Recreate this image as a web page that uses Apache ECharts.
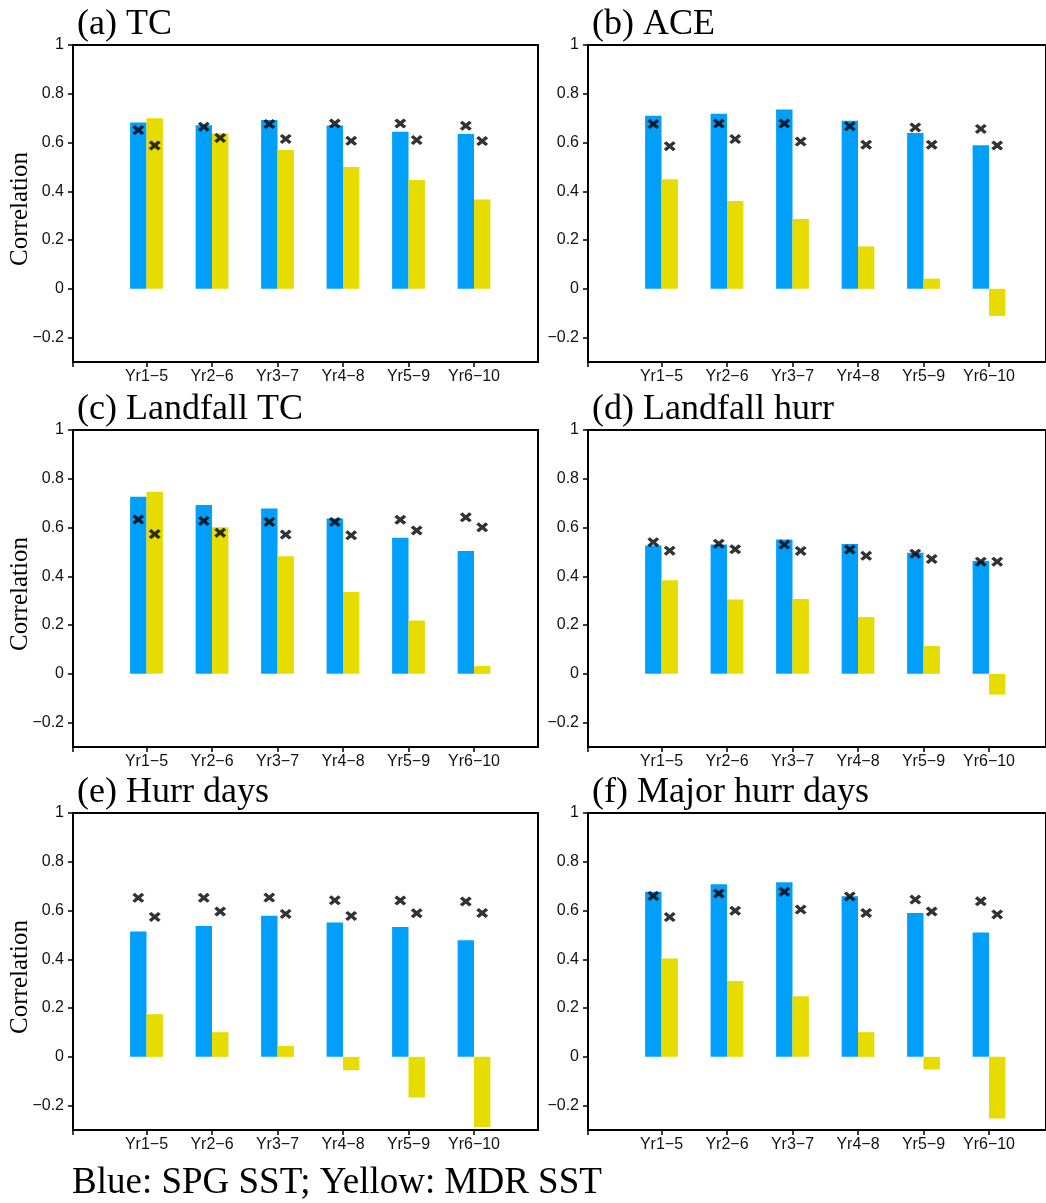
<!DOCTYPE html>
<html>
<head>
<meta charset="utf-8">
<script src="https://cdn.jsdelivr.net/npm/echarts@6.0.0/dist/echarts.min.js"></script>
<style>
  html, body { margin: 0; padding: 0; background: #fff; }
  #chart { width: 1046px; height: 1203px; }
</style>
</head>
<body>
<div id="chart"></div>
<script>
// ---- data ----
const categories = ['Yr1\u22125', 'Yr2\u22126', 'Yr3\u22127', 'Yr4\u22128', 'Yr5\u22129', 'Yr6\u221210'];
const yTicks = [-0.2, 0, 0.2, 0.4, 0.6, 0.8, 1];

// (a) TC
const tcBlue    = [0.682, 0.671, 0.692, 0.670, 0.644, 0.635];
const tcYellow  = [0.700, 0.637, 0.569, 0.500, 0.446, 0.366];
const tcBlueX   = [0.651, 0.665, 0.676, 0.678, 0.678, 0.669];
const tcYellowX = [0.588, 0.619, 0.615, 0.607, 0.610, 0.606];
// (b) ACE
const aceBlue    = [0.710, 0.718, 0.736, 0.689, 0.639, 0.589];
const aceYellow  = [0.449, 0.360, 0.286, 0.174, 0.042, -0.111];
const aceBlueX   = [0.676, 0.678, 0.678, 0.667, 0.662, 0.656];
const aceYellowX = [0.585, 0.614, 0.604, 0.591, 0.591, 0.588];
// (c) Landfall TC
const ltcBlue    = [0.726, 0.692, 0.678, 0.637, 0.558, 0.504];
const ltcYellow  = [0.747, 0.601, 0.482, 0.336, 0.219, 0.032];
const ltcBlueX   = [0.633, 0.627, 0.623, 0.623, 0.632, 0.642];
const ltcYellowX = [0.573, 0.579, 0.571, 0.568, 0.588, 0.601];
// (d) Landfall hurr
const lhBlue    = [0.526, 0.530, 0.551, 0.533, 0.497, 0.463];
const lhYellow  = [0.384, 0.305, 0.307, 0.233, 0.114, -0.085];
const lhBlueX   = [0.540, 0.534, 0.530, 0.510, 0.493, 0.460];
const lhYellowX = [0.505, 0.511, 0.504, 0.484, 0.471, 0.460];
// (e) Hurr days
const hdBlue    = [0.514, 0.537, 0.579, 0.551, 0.533, 0.478];
const hdYellow  = [0.175, 0.101, 0.045, -0.055, -0.167, -0.288];
const hdBlueX   = [0.652, 0.652, 0.653, 0.642, 0.641, 0.637];
const hdYellowX = [0.574, 0.596, 0.586, 0.578, 0.589, 0.590];
// (f) Major hurr days
const mhdBlue    = [0.677, 0.708, 0.716, 0.659, 0.590, 0.510];
const mhdYellow  = [0.403, 0.311, 0.249, 0.101, -0.052, -0.253];
const mhdBlueX   = [0.660, 0.670, 0.677, 0.658, 0.645, 0.638];
const mhdYellowX = [0.573, 0.599, 0.604, 0.590, 0.596, 0.584];

const panelTitles = ['(a) TC', '(b) ACE', '(c) Landfall TC', '(d) Landfall hurr', '(e) Hurr days', '(f) Major hurr days'];
const yAxisTitle = 'Correlation';
const caption = 'Blue: SPG SST; Yellow: MDR SST';

const panels = [
  { title: panelTitles[0], blue: tcBlue,  yellow: tcYellow,  bx: tcBlueX,  yx: tcYellowX,  col: 0, row: 0 },
  { title: panelTitles[1], blue: aceBlue, yellow: aceYellow, bx: aceBlueX, yx: aceYellowX, col: 1, row: 0 },
  { title: panelTitles[2], blue: ltcBlue, yellow: ltcYellow, bx: ltcBlueX, yx: ltcYellowX, col: 0, row: 1 },
  { title: panelTitles[3], blue: lhBlue,  yellow: lhYellow,  bx: lhBlueX,  yx: lhYellowX,  col: 1, row: 1 },
  { title: panelTitles[4], blue: hdBlue,  yellow: hdYellow,  bx: hdBlueX,  yx: hdYellowX,  col: 0, row: 2 },
  { title: panelTitles[5], blue: mhdBlue, yellow: mhdYellow, bx: mhdBlueX, yx: mhdYellowX, col: 1, row: 2 }
];

// ---- layout ----
const colLeft = [73, 588];
const rowTop = [45, 430, 813];
const frameW = 465, frameH = 317;
const dataOffset = 40.75, dataW = 393;
const BLUE = '#00A0FA', YELLOW = '#E6DC00';
const SANS = '"Liberation Sans", Arial, sans-serif';
const SERIF = '"Liberation Serif", "Times New Roman", serif';
const barW = 16.4;
const xMark = 'path://M0,2.6L2.6,0L6,3.4L9.4,0L12,2.6L8.6,6L12,9.4L9.4,12L6,8.6L2.6,12L0,9.4L3.4,6Z';

function fmt(v) {
  const r = Math.round(v * 10) / 10;
  if (r === 0) return '0';
  if (r === 1) return '1';
  return (r < 0 ? '\u2212' : '') + Math.abs(r).toFixed(1);
}

const grid = [], xAxis = [], yAxis = [], series = [], graphic = [];
const black = { color: '#000', width: 2 };

panels.forEach((p, i) => {
  const L = colLeft[p.col], T = rowTop[p.row];
  const fi = 2 * i, di = 2 * i + 1;
  grid.push({ left: L, top: T, width: frameW, height: frameH, show: true, borderColor: '#000', borderWidth: 2, backgroundColor: 'transparent' });
  grid.push({ left: L + dataOffset, top: T, width: dataW, height: frameH });

  xAxis.push({
    gridIndex: fi, type: 'value', min: 0, max: 1,
    axisLine: { show: true, onZero: false, lineStyle: black },
    axisTick: { show: true, customValues: [0], length: 5, lineStyle: { color: '#000', width: 1.5 } },
    axisLabel: { show: false }, splitLine: { show: false }
  });
  yAxis.push({
    gridIndex: fi, type: 'value', min: -0.3, max: 1,
    axisLine: { show: true, onZero: false, lineStyle: black },
    axisTick: { show: true, customValues: yTicks, length: 5, lineStyle: { color: '#000', width: 1.5 } },
    axisLabel: { show: true, customValues: yTicks, formatter: fmt, fontSize: 16, fontFamily: SANS, color: '#111', margin: 9 },
    splitLine: { show: false }
  });
  xAxis.push({
    gridIndex: di, type: 'category', data: categories,
    axisLine: { show: true, onZero: false, lineStyle: black },
    axisTick: { show: true, alignWithLabel: true, interval: 0, inside: false, length: 5, lineStyle: { color: '#000', width: 1.5 } },
    axisLabel: { fontSize: 16, fontFamily: SANS, color: '#111', margin: 7, interval: 0 },
    splitLine: { show: false }
  });
  yAxis.push({ gridIndex: di, type: 'value', min: -0.3, max: 1, show: false, splitLine: { show: false } });

  series.push({
    type: 'bar', xAxisIndex: di, yAxisIndex: di, data: p.blue, barWidth: barW, barGap: '0%',
    itemStyle: { color: BLUE }, silent: true
  });
  series.push({
    type: 'bar', xAxisIndex: di, yAxisIndex: di, data: p.yellow, barWidth: barW, barGap: '0%',
    itemStyle: { color: YELLOW }, silent: true
  });
  series.push({
    type: 'scatter', xAxisIndex: di, yAxisIndex: di, data: p.bx, symbol: xMark, symbolSize: [12, 10],
    symbolOffset: [-barW / 2, 0], itemStyle: { color: '#000' }, z: 5, silent: true
  });
  series.push({
    type: 'scatter', xAxisIndex: di, yAxisIndex: di, data: p.yx, symbol: xMark, symbolSize: [12, 10],
    symbolOffset: [barW / 2, 0], itemStyle: { color: '#000' }, z: 5, silent: true
  });

  graphic.push({
    type: 'text', left: L + 4, top: T - 38, z: 10,
    style: { text: p.title, font: '36px ' + SERIF, fill: '#000' }
  });
  if (p.col === 0) {
    graphic.push({
      type: 'text', x: 20, y: T + 164, rotation: Math.PI / 2, z: 10,
      style: { text: yAxisTitle, font: '25px ' + SERIF, fill: '#000', align: 'center', verticalAlign: 'middle' }
    });
  }
});

graphic.push({
  type: 'text', left: 72, top: 1165, z: 10,
  style: { text: caption, font: '37px ' + SERIF, fill: '#000' }
});

const chart = echarts.init(document.getElementById('chart'), null, { renderer: 'canvas' });
chart.setOption({
  backgroundColor: '#fff',
  animation: false,
  grid, xAxis, yAxis, series, graphic
});
</script>
</body>
</html>
